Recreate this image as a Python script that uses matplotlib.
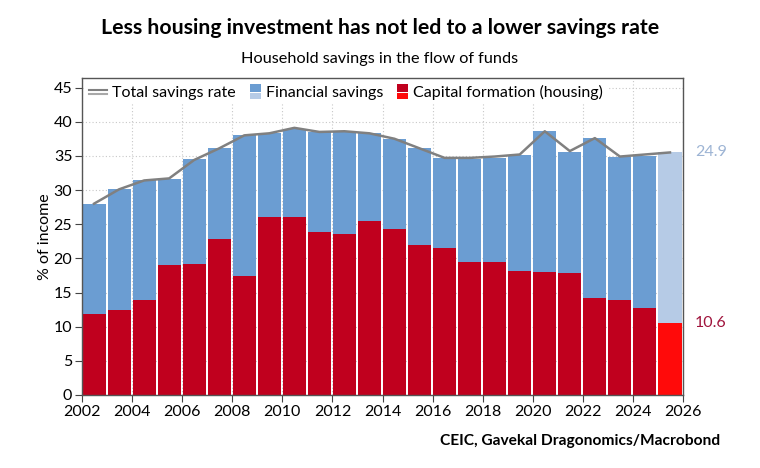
import matplotlib
matplotlib.use("Agg")
import matplotlib.pyplot as plt
from matplotlib.legend_handler import HandlerBase
from matplotlib.patches import Patch, Rectangle
from matplotlib.lines import Line2D

plt.rcParams['font.family'] = ['Lato', 'DejaVu Sans']

# Data (% of income)
years = list(range(2002, 2026))
capital = [11.8, 12.5, 13.9, 19.05, 19.2, 22.9, 17.45, 26.1, 26.0, 23.8, 23.5, 25.4,
           24.3, 22.0, 21.5, 19.4, 19.4, 18.1, 18.0, 17.85, 14.2, 13.9, 12.8, 10.6]
financial_total = [27.9, 30.2, 31.4, 31.6, 34.5, 36.2, 38.0, 38.3, 39.0, 38.5, 38.5, 38.3,
                   37.4, 36.2, 34.7, 34.5, 34.7, 35.1, 38.7, 35.6, 37.6, 34.85, 35.05, 35.5]
total_rate = [28.0, 30.1, 31.4, 31.7, 34.4, 36.1, 38.0, 38.3, 39.1, 38.5, 38.6, 38.3,
              37.5, 36.1, 34.7, 34.7, 34.9, 35.2, 38.6, 35.7, 37.6, 34.9, 35.2, 35.5]
financial = [t - c for t, c in zip(financial_total, capital)]

BLUE = "#6b9dd2"
LIGHT_BLUE = "#b6cbe6"
RED = "#c0001e"
BRIGHT_RED = "#ff0a0a"
GRAY = "#808080"


class StackedBoxes(HandlerBase):
    # two small squares on top of each other, like the original legend
    def __init__(self, top, bottom):
        super().__init__()
        self.top = top
        self.bottom = bottom

    def create_artists(self, legend, orig_handle, xdescent, ydescent, width, height, fontsize, trans):
        w = 8
        x0 = -xdescent + width - w
        h = height * 1.3
        y0 = -ydescent - 0.15 * height
        a = Rectangle((x0, y0 + h / 2), w, h / 2, facecolor=self.top, edgecolor="none", transform=trans)
        b = Rectangle((x0, y0), w, h / 2 - 1, facecolor=self.bottom, edgecolor="none", transform=trans)
        return [a, b]


class DoubleLine(HandlerBase):
    def create_artists(self, legend, orig_handle, xdescent, ydescent, width, height, fontsize, trans):
        y = -ydescent + height / 2
        l1 = Line2D([-xdescent, -xdescent + width], [y + 1.5, y + 1.5], color=GRAY, lw=1.5, transform=trans)
        l2 = Line2D([-xdescent, -xdescent + width], [y - 1.5, y - 1.5], color="#a8a8a8", lw=1.5, transform=trans)
        return [l1, l2]


fig = plt.figure(figsize=(7.6, 4.68), dpi=100)
ax = fig.add_axes([0.1079, 0.156, 0.7908, 0.6774])

centers = [y + 0.48 for y in years]
cap_colors = [RED] * (len(years) - 1) + [BRIGHT_RED]
fin_colors = [BLUE] * (len(years) - 1) + [LIGHT_BLUE]
ax.bar(centers, capital, width=0.92, color=cap_colors, zorder=2)
ax.bar(centers, financial, width=0.92, bottom=capital, color=fin_colors, zorder=2)
ax.plot(centers, total_rate, color=GRAY, lw=1.8, zorder=3)

ax.set_xlim(2002, 2026)
ax.set_ylim(0, 46.4)
ax.set_xticks(range(2002, 2027, 2))
ax.set_yticks(range(0, 46, 5))
ax.grid(True, color="#c8c8c8", linestyle=(0, (1, 2)), lw=0.8, zorder=0)
ax.tick_params(direction="out", length=5, color="#444444", labelsize=11.5, pad=2)
for s in ax.spines.values():
    s.set_color("#555555")
    s.set_linewidth(1.0)
ax.set_ylabel("% of income", fontsize=11.5, labelpad=1)

h_line = Line2D([], [])
h_fin = Patch()
h_cap = Patch()
ax.legend([h_line, h_fin, h_cap],
          ["Total savings rate", "Financial savings", "Capital formation (housing)"],
          handler_map={h_line: DoubleLine(),
                       h_fin: StackedBoxes(BLUE, LIGHT_BLUE),
                       h_cap: StackedBoxes(RED, BRIGHT_RED)},
          loc="upper left", bbox_to_anchor=(0.0, 1.0), ncol=3, frameon=True,
          fancybox=False, edgecolor="none", framealpha=1.0,
          fontsize=11.5, handlelength=1.1, handletextpad=0.3, columnspacing=0.5,
          borderpad=0.25, borderaxespad=0.2)

# end labels for the latest year
ax.annotate("24.9", xy=(1.0, financial_total[-1]), xycoords=("axes fraction", "data"),
            xytext=(8.5, 0), textcoords="offset points", va="center", ha="left",
            color="#9db4d4", fontsize=11.5, annotation_clip=False)
ax.annotate("10.6", xy=(1.0, capital[-1]), xycoords=("axes fraction", "data"),
            xytext=(8.5, 0), textcoords="offset points", va="center", ha="left",
            color="#a0143c", fontsize=11.5, annotation_clip=False)

fig.text(0.5, 0.94, "Less housing investment has not led to a lower savings rate",
         ha="center", va="center", fontsize=15.3, fontweight="bold")
fig.text(0.5, 0.874, "Household savings in the flow of funds", ha="center", va="center", fontsize=11.7)
fig.text(0.948, 0.058, "CEIC, Gavekal Dragonomics/Macrobond", ha="right", va="center",
         fontsize=11.2, fontweight="bold")

fig.savefig("out.png", dpi=100)
